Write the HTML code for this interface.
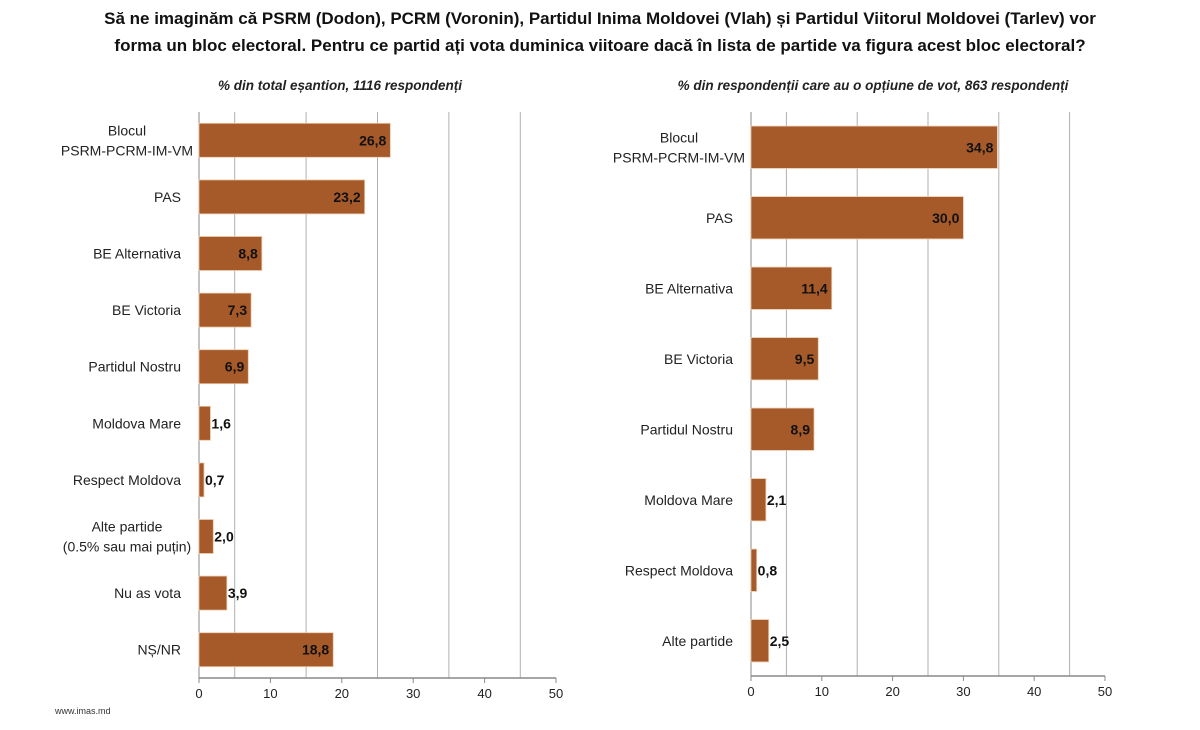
<!DOCTYPE html>
<html><head><meta charset="utf-8"><style>
body{margin:0;background:#fff;width:1200px;height:725px;overflow:hidden;font-family:"Liberation Sans",sans-serif;}
</style></head><body>
<svg id="chart" width="1200" height="725" xmlns="http://www.w3.org/2000/svg">
<text x="600" y="24" text-anchor="middle" font-size="17" font-weight="bold" fill="#111">Să ne imaginăm că PSRM (Dodon), PCRM (Voronin), Partidul Inima Moldovei (Vlah) și Partidul Viitorul Moldovei (Tarlev) vor</text>
<text x="600" y="51" text-anchor="middle" font-size="17" font-weight="bold" fill="#111">forma un bloc electoral. Pentru ce partid ați vota duminica viitoare dacă în lista de partide va figura acest bloc electoral?</text>
<text x="340" y="90" text-anchor="middle" font-size="13.5" font-weight="bold" font-style="italic" fill="#222">% din total eșantion, 1116 respondenți</text>
<text x="873" y="90" text-anchor="middle" font-size="13.5" font-weight="bold" font-style="italic" fill="#222">% din respondenții care au o opțiune de vot, 863 respondenți</text>
<text x="55" y="714" font-size="9" fill="#333">www.imas.md</text>
</svg>
<script>
const leftCategories=[["Blocul","PSRM-PCRM-IM-VM"],["PAS"],["BE Alternativa"],["BE Victoria"],["Partidul Nostru"],["Moldova Mare"],["Respect Moldova"],["Alte partide","(0.5% sau mai puțin)"],["Nu as vota"],["NȘ/NR"]];
const leftValues=[26.8,23.2,8.8,7.3,6.9,1.6,0.7,2.0,3.9,18.8];
const rightCategories=[["Blocul","PSRM-PCRM-IM-VM"],["PAS"],["BE Alternativa"],["BE Victoria"],["Partidul Nostru"],["Moldova Mare"],["Respect Moldova"],["Alte partide"]];
const rightValues=[34.8,30.0,11.4,9.5,8.9,2.1,0.8,2.5];
const tickValues=[0,10,20,30,40,50];
const gridValues=[5,15,25,35,45];
const svg=document.getElementById('chart');
const NS="http://www.w3.org/2000/svg";
function mk(tag,attrs,parent){const e=document.createElementNS(NS,tag);for(const k in attrs)e.setAttribute(k,attrs[k]);(parent||svg).appendChild(e);return e;}
function draw(cats,vals,x0,x1,top,bottom,prefix){
  const g=mk('g',{});
  
  
  const xs=v=>x0+(x1-x0)*v/50;
  const band=(bottom-top)/cats.length;
  gridValues.forEach(v=>{const l=mk('line',{x1:xs(v),x2:xs(v),y1:top,y2:bottom,stroke:'#b0b0b0','stroke-width':1},g);
    
    });
  const ax=mk('line',{x1:x0,x2:x1,y1:bottom,y2:bottom,stroke:'#888','stroke-width':1.5},g);
  
  
  const ay=mk('line',{x1:x0,x2:x0,y1:top,y2:bottom,stroke:'#888','stroke-width':1},g);
  
  
  tickValues.forEach(v=>{mk('line',{x1:xs(v),x2:xs(v),y1:bottom,y2:bottom+5,stroke:'#888'},g);
    const t=mk('text',{x:xs(v),y:bottom+20,'text-anchor':'middle','font-size':13,fill:'#222'},g);t.textContent=v;
    
    });
  cats.forEach((c,i)=>{
    const cy=top+band*(i+0.5);const bh=band*0.6;
    const r=mk('rect',{x:x0,y:cy-bh/2,width:xs(vals[i])-x0,height:bh,fill:'#A65A2A',stroke:'#e8c8a8','stroke-width':0.8},g);
    
    
    const vt=mk('text',{x:xs(vals[i])-4,y:cy+5,'text-anchor':vals[i]<5?'start':'end','font-size':14,'font-weight':'bold',fill:'#111'},g);
    if(vals[i]<5)vt.setAttribute('x',xs(vals[i])+1);
    vt.textContent=vals[i].toFixed(1).replace('.',',');
    
    
    c.forEach((line,j)=>{const t=mk('text',{x:x0-18,y:cy+5+(j-(c.length-1)/2)*20,'text-anchor':'end','font-size':14,fill:'#222'},g);
      if(c.length>1)t.setAttribute('text-anchor','middle'),t.setAttribute('x',x0-72);
      t.textContent=line;
      
      });
  });
}
draw(leftCategories,leftValues,199,556,112,678,'left');
draw(rightCategories,rightValues,751,1105,112,676,'right');
</script>
</body></html>
